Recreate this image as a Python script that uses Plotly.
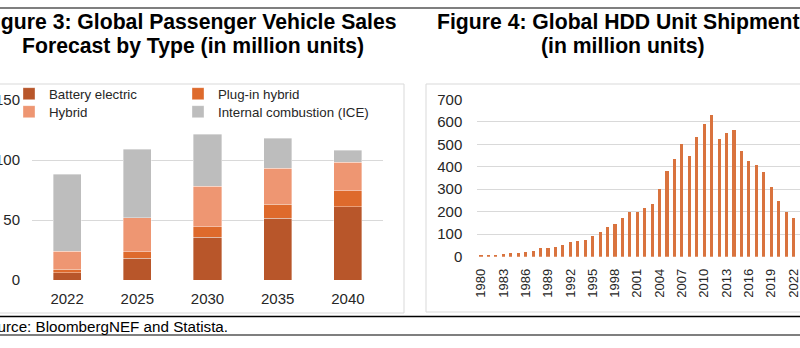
import plotly.graph_objects as go

W, H = 800, 348

# Figure 3: passenger vehicle sales forecast (million units)
years_pv = ["2022", "2025", "2030", "2035", "2040"]
battery_electric = [6, 18, 35.5, 51.5, 61]
plug_in_hybrid = [3, 5.5, 9, 11.5, 13.5]
hybrid = [15, 28.5, 33.5, 30, 23.5]
internal_combustion = [64, 57, 43.5, 25, 10]

# Figure 4: HDD unit shipments (million units)
hdd_years = list(range(1980, 2023))
hdd_units = [2, 4, 8, 12, 15, 18, 22, 27, 37, 40,
             44, 53, 65, 70, 76, 90, 111, 133, 145, 173,
             201, 198, 218, 233, 299, 381, 434, 501, 447, 532,
             588, 628, 523, 551, 563, 468, 427, 407, 376, 308,
             249, 199, 170]
hdd_tick_years = hdd_years[::3]

FONT = "Arial, Liberation Sans, sans-serif"
TXT = "#262626"
GRID = "#D9D9D9"
NO_TICK = "rgba(0,0,0,0)"

c_bev = "#B8562A"
c_phev = "#DE6A2C"
c_hyb = "#EE9672"
c_ice = "#BDBDBD"
c_hdd = "#D9733E"


def px(x):
    return x / W


def py(y):
    return 1 - y / H


fig = go.Figure()

# each legend entry gets its own single-item legend so the 2x2 grid can be placed freely
series = [
    ("Battery electric", battery_electric, c_bev, "legend", 9, 94),
    ("Plug-in hybrid", plug_in_hybrid, c_phev, "legend2", 178, 94),
    ("Hybrid", hybrid, c_hyb, "legend3", 9, 112),
    ("Internal combustion (ICE)", internal_combustion, c_ice, "legend4", 178, 112),
]
for name, vals, col, lg, *_ in series:
    fig.add_trace(go.Bar(
        x=years_pv, y=vals, name=name, legend=lg,
        marker=dict(color=col, line=dict(color="rgba(255,255,255,0.6)", width=0.6)),
        xaxis="x", yaxis="y",
    ))

fig.add_trace(go.Bar(
    x=hdd_years, y=hdd_units, name="HDD shipments", showlegend=False,
    marker=dict(color=c_hdd, line=dict(width=0)),
    xaxis="x2", yaxis="y2", width=0.42,
))

axis_font = dict(family=FONT, size=15, color=TXT)

fig.update_layout(
    width=W, height=H,
    margin=dict(l=0, r=0, t=0, b=0, autoexpand=False),
    paper_bgcolor="white", plot_bgcolor="white",
    barmode="stack", bargap=0.6,
    font=dict(family=FONT, color=TXT),
    xaxis=dict(domain=[px(32), px(383)], showgrid=False, zeroline=False,
               showline=False, ticks="outside", ticklen=5, tickcolor=NO_TICK,
               tickfont=axis_font, automargin=False, fixedrange=True),
    yaxis=dict(domain=[py(280), py(100)], range=[0, 150], dtick=50,
               showgrid=True, gridcolor=GRID, gridwidth=1, zeroline=False,
               showline=False, ticks="outside", ticklen=8, tickcolor=NO_TICK,
               tickfont=axis_font, ticklabeloverflow="allow",
               automargin=False, fixedrange=True),
    xaxis2=dict(domain=[px(477.3), 1.0], range=[1979.5, 2022.87],
                tickmode="array", tickvals=hdd_tick_years,
                ticktext=[str(y) for y in hdd_tick_years], tickangle=-90,
                showgrid=False, zeroline=False, showline=False,
                ticks="outside", ticklen=6, tickcolor=NO_TICK,
                tickfont=dict(family=FONT, size=13, color=TXT),
                ticklabeloverflow="allow", anchor="y2",
                automargin=False, fixedrange=True),
    yaxis2=dict(domain=[py(256.7), py(99.3)], range=[0, 700], dtick=100,
                showgrid=True, gridcolor=GRID, gridwidth=1, zeroline=False,
                showline=False, ticks="outside", ticklen=11, tickcolor=NO_TICK,
                tickfont=axis_font, anchor="x2", automargin=False,
                fixedrange=True),
)

for name, vals, col, lg, lx, ly in series:
    fig.update_layout({lg: dict(
        x=px(lx), y=py(ly), xanchor="left", yanchor="middle",
        orientation="v", itemwidth=30, bgcolor="rgba(0,0,0,0)",
        font=dict(family=FONT, size=13.3, color=TXT))})

# chart frames and document rules
shapes = [
    dict(type="rect", x0=px(-5), x1=px(404), y0=py(313), y1=py(84),
         line=dict(color=GRID, width=1)),
    dict(type="rect", x0=px(426), x1=px(810), y0=py(312), y1=py(84),
         line=dict(color=GRID, width=1)),
    dict(type="line", x0=0, x1=1, y0=py(8), y1=py(8),
         line=dict(color="black", width=1.2)),
    dict(type="line", x0=0, x1=1, y0=py(316.5), y1=py(316.5),
         line=dict(color="black", width=1.5)),
    dict(type="line", x0=0, x1=1, y0=py(335), y1=py(335),
         line=dict(color="black", width=1.2)),
]
for s in shapes:
    s.update(xref="paper", yref="paper", layer="below")
fig.update_layout(shapes=shapes)

title_font = dict(family=FONT, size=21.2, color="black", weight="bold")
titles = [
    ("Figure 3: Global Passenger Vehicle Sales", 189, 22),
    ("Forecast by Type (in million units)", 193, 46.5),
    ("Figure 4: Global HDD Unit Shipments", 624, 22),
    ("(in million units)", 623, 46.5),
]
for text, x, y in titles:
    fig.add_annotation(text=text, x=px(x), y=py(y), xref="paper", yref="paper",
                       xanchor="center", yanchor="middle", showarrow=False,
                       font=title_font)

fig.add_annotation(text="Source: BloombergNEF and Statista.",
                   x=px(230), y=py(326.5), xref="paper", yref="paper",
                   xanchor="right", yanchor="middle", showarrow=False,
                   font=dict(family=FONT, size=15.2, color="black"))

fig.write_html("out.html")
